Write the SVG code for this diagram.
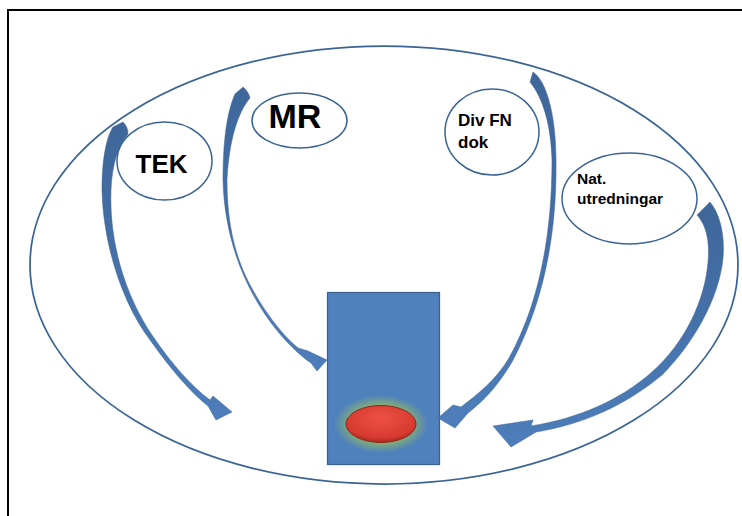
<svg xmlns="http://www.w3.org/2000/svg" width="742" height="516" viewBox="0 0 742 516">
<defs>
<style>
.node{fill:#FFFFFF;stroke:#3B6496;stroke-width:1.5}
.lbl{font-family:"Liberation Sans",Arial,sans-serif;font-weight:bold;fill:#000000}
.arrow{fill:url(#arrowGrad);stroke:#3A6190;stroke-width:0.5;stroke-linejoin:round}
</style>
<linearGradient id="arrowGrad" x1="0" y1="0" x2="0" y2="1">
<stop offset="0" stop-color="#3E6699"/>
<stop offset="1" stop-color="#4D7EBB"/>
</linearGradient>
<radialGradient id="glow" cx="0.5" cy="0.5" r="0.5">
<stop offset="0.6" stop-color="#8DB868" stop-opacity="0.95"/>
<stop offset="1" stop-color="#8DB868" stop-opacity="0"/>
</radialGradient>
<radialGradient id="redGrad" cx="0.5" cy="0.35" r="0.65">
<stop offset="0" stop-color="#EE5044"/>
<stop offset="0.8" stop-color="#D63A30"/>
<stop offset="1" stop-color="#A82A22"/>
</radialGradient>
</defs>
<rect width="742" height="516" fill="#FFFFFF"/>
<path d="M8,516 L8,10 L742,10" fill="none" stroke="#000000" stroke-width="2"/>
<g id="container">
<ellipse cx="384" cy="265" rx="354" ry="219" fill="none" stroke="#3B6496" stroke-width="1.75"/>
</g>
<g id="target">
<rect x="327.5" y="292.5" width="112" height="172" fill="#4F81BD" stroke="#3A6190" stroke-width="1.25"/>
<ellipse cx="381" cy="424" rx="47" ry="29" fill="url(#glow)"/>
<ellipse cx="381" cy="424" rx="35" ry="18.5" fill="url(#redGrad)" stroke="#8E241C" stroke-width="1"/>
</g>
<g id="connectors">
<path id="arrow-tek" class="arrow" d="M113,127 L123,122 C127,126 128,130 128,134 C118,145 112,165 111,190 C109,240 124,295 154,338 C172,364 191,386 210,400 L213,396 L232,412 L216,420 L208,406 C190,392 170,368 150,340 C120,300 103,240 102,190 C102,160 106,138 113,127 Z"/>
<path id="arrow-mr" class="arrow" d="M235,94 L243,87 C247,90 249,94 250,98 C238,112 229,140 227,180 C227,215 232,250 249,283 C261,306 279,332 298,348 L308,351 L327,360 L317,371 L311,363 C292,350 270,325 255,298 C235,263 224,222 223,180 C223,140 227,112 235,94 Z"/>
<path id="arrow-fn" class="arrow" d="M530,82 L533,72 C548,82 556,120 556,160 C557,230 545,300 512,362 C498,385 485,400 468,413 L455,428 L438,418 L453,405 L461,407 C478,394 496,380 509,358 C541,300 552,230 552,160 C551,125 543,98 530,82 Z"/>
<path id="arrow-nat" class="arrow" d="M697,215 L710,202 C720,214 725,235 723,258 C719,300 692,345 662,375 C627,404 585,424 536,432 L511,447 L493,426 L533,420 L531,426 C580,418 620,400 652,372 C685,343 705,300 708,262 C710,240 706,225 697,215 Z"/>
</g>
<g id="node-tek">
<ellipse class="node" cx="164.5" cy="161" rx="47.5" ry="39"/>
<text class="lbl" x="161.5" y="173" font-size="26" text-anchor="middle">TEK</text>
</g>
<g id="node-mr">
<ellipse class="node" cx="299.5" cy="120.5" rx="47.5" ry="27.5"/>
<text class="lbl" x="295" y="128" font-size="34" text-anchor="middle">MR</text>
</g>
<g id="node-divfn">
<ellipse class="node" cx="492" cy="132" rx="47" ry="43"/>
<text class="lbl" x="458" y="126" font-size="17">Div FN</text>
<text class="lbl" x="458" y="148" font-size="17">dok</text>
</g>
<g id="node-nat">
<ellipse class="node" cx="629.5" cy="198.5" rx="67.5" ry="45.5"/>
<text class="lbl" x="577" y="184" font-size="15.5">Nat.</text>
<text class="lbl" x="577" y="204" font-size="15.5">utredningar</text>
</g>
</svg>
